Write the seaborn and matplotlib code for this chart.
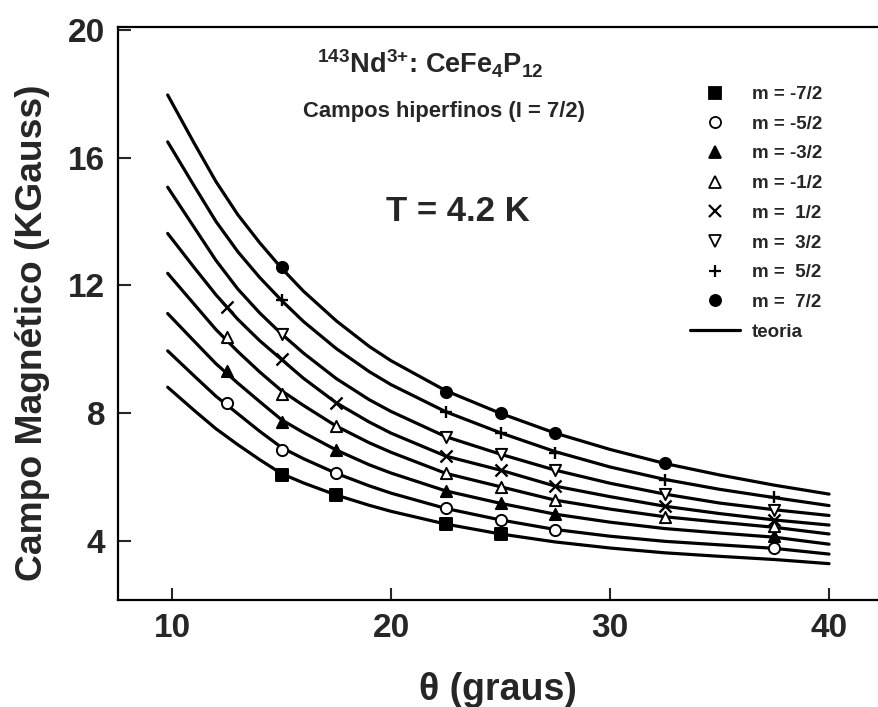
import matplotlib
matplotlib.use('Agg')
import matplotlib.pyplot as plt
import seaborn as sns
from matplotlib.lines import Line2D

sns.set_theme(style='ticks')
plt.rcParams['font.family'] = ['Liberation Sans', 'DejaVu Sans']
plt.rcParams['font.weight'] = 'bold'
plt.rcParams['mathtext.fontset'] = 'custom'
plt.rcParams['mathtext.rm'] = 'Liberation Sans:bold'
plt.rcParams['mathtext.it'] = 'Liberation Sans:bold'
plt.rcParams['mathtext.bf'] = 'Liberation Sans:bold'

# ---- theory curves ----
theta_teoria = [9.8, 11, 12, 13, 14, 15, 16, 17.5, 19, 20, 22.5, 25, 27.5, 30, 32.5, 35, 37.5, 40]
teo_m72 = [8.81, 8.09, 7.51, 7.01, 6.54, 6.10, 5.81, 5.43, 5.11, 4.92, 4.52, 4.21, 3.96, 3.77, 3.62, 3.51, 3.41, 3.28]
teo_m52 = [9.95, 9.17, 8.53, 7.98, 7.43, 6.92, 6.57, 6.11, 5.72, 5.49, 5.01, 4.65, 4.35, 4.14, 3.98, 3.87, 3.76, 3.58]
teo_m32 = [11.12, 10.26, 9.55, 8.94, 8.36, 7.79, 7.39, 6.84, 6.38, 6.12, 5.56, 5.17, 4.83, 4.58, 4.38, 4.24, 4.11, 3.89]
teo_m12 = [12.38, 11.42, 10.62, 9.93, 9.29, 8.70, 8.24, 7.59, 7.07, 6.77, 6.11, 5.69, 5.27, 4.99, 4.75, 4.58, 4.42, 4.21]
teo_p12 = [13.63, 12.57, 11.71, 10.94, 10.27, 9.68, 9.09, 8.32, 7.72, 7.37, 6.65, 6.21, 5.71, 5.38, 5.08, 4.85, 4.65, 4.49]
teo_p32 = [15.08, 13.83, 12.79, 11.89, 11.14, 10.48, 9.88, 9.08, 8.42, 8.05, 7.26, 6.71, 6.21, 5.80, 5.46, 5.18, 4.97, 4.79]
teo_p52 = [16.50, 15.13, 14.01, 13.06, 12.25, 11.53, 10.87, 10.02, 9.30, 8.89, 8.04, 7.38, 6.79, 6.31, 5.92, 5.61, 5.35, 5.10]
teo_p72 = [17.97, 16.47, 15.26, 14.22, 13.34, 12.54, 11.82, 10.89, 10.09, 9.64, 8.70, 7.99, 7.37, 6.86, 6.42, 6.06, 5.74, 5.46]

# ---- measured points ----
th_m72 = [15, 17.5, 22.5, 25]
B_m72 = [6.06, 5.43, 4.52, 4.21]
th_m52 = [12.5, 15, 17.5, 22.5, 25, 27.5, 37.5]
B_m52 = [8.30, 6.84, 6.11, 5.01, 4.65, 4.35, 3.78]
th_m32 = [12.5, 15, 17.5, 22.5, 25, 27.5, 37.5]
B_m32 = [9.33, 7.73, 6.84, 5.56, 5.17, 4.83, 4.14]
th_m12 = [12.5, 15, 17.5, 22.5, 25, 27.5, 32.5, 37.5]
B_m12 = [10.37, 8.60, 7.59, 6.11, 5.69, 5.27, 4.75, 4.45]
th_p12 = [12.5, 15, 17.5, 22.5, 25, 27.5, 32.5, 37.5]
B_p12 = [11.32, 9.68, 8.32, 6.65, 6.21, 5.71, 5.08, 4.65]
th_p32 = [15, 22.5, 25, 27.5, 32.5, 37.5]
B_p32 = [10.48, 7.26, 6.71, 6.21, 5.46, 4.96]
th_p52 = [15, 22.5, 25, 27.5, 32.5, 37.5]
B_p52 = [11.54, 8.04, 7.38, 6.76, 5.90, 5.38]
th_p72 = [15, 22.5, 25, 27.5, 32.5]
B_p72 = [12.59, 8.67, 8.01, 7.38, 6.43]

labels = ['m = -7/2', 'm = -5/2', 'm = -3/2', 'm = -1/2',
          'm =  1/2', 'm =  3/2', 'm =  5/2', 'm =  7/2']
markers = ['s', 'o', '^', '^', 'x', 'v', '+', 'o']
filled = [True, False, True, False, True, False, True, True]

teorias = [teo_m72, teo_m52, teo_m32, teo_m12, teo_p12, teo_p32, teo_p52, teo_p72]
thetas = [th_m72, th_m52, th_m32, th_m12, th_p12, th_p32, th_p52, th_p72]
Bs = [B_m72, B_m52, B_m32, B_m12, B_p12, B_p32, B_p52, B_p72]

fig = plt.figure(figsize=(8.79, 7.07), dpi=100)
ax = fig.add_axes([0.1342, 0.1513, 0.8658, 0.8105])

for teo in teorias:
    sns.lineplot(x=theta_teoria, y=teo, color='black', linewidth=2.3, ax=ax,
                 legend=False, sort=False)

handles = []
for th, B, mk, fl in zip(thetas, Bs, markers, filled):
    if mk in ('x', '+'):
        sns.scatterplot(x=th, y=B, marker=mk, color='black', s=75, linewidth=1.7,
                        ax=ax, zorder=5, legend=False)
        h = Line2D([], [], ls='none', marker=mk, color='black', ms=8, mew=1.6)
    else:
        fc = 'black' if fl else 'white'
        sns.scatterplot(x=th, y=B, marker=mk, facecolor=fc, edgecolor='black', s=65,
                        linewidth=1.4, ax=ax, zorder=5, legend=False)
        h = Line2D([], [], ls='none', marker=mk, mfc=fc, mec='black', ms=8, mew=1.3)
    handles.append(h)
handles.append(Line2D([], [], color='black', lw=2.3))

leg = ax.legend(handles=handles, labels=labels + ['teoria'], loc='upper left',
                bbox_to_anchor=(690 / 879, 1 - 86 / 707), bbox_transform=fig.transFigure,
                frameon=False, fontsize=13.5, handlelength=2.67, handletextpad=0.64,
                labelspacing=0.67, borderpad=0, borderaxespad=0)
for t in leg.get_texts():
    t.set_fontweight('bold')

ax.set_xlim(7.53, 42.28)
ax.set_ylim(2.14, 20.1)
ax.set_xticks([10, 20, 30, 40])
ax.set_yticks([4, 8, 12, 16, 20])
ax.tick_params(direction='in', length=9, width=1.5, labelsize=24, pad=9)
for lab in ax.get_xticklabels() + ax.get_yticklabels():
    lab.set_fontweight('bold')
for s in ['left', 'bottom', 'top']:
    ax.spines[s].set_linewidth(1.6)
    ax.spines[s].set_color('black')
ax.spines['right'].set_visible(False)

ax.set_xlabel('θ (graus)', fontsize=27, fontweight='bold')
ax.set_ylabel('Campo Magnético (KGauss)', fontsize=26.8, fontweight='bold')
ax.xaxis.set_label_coords((498 - 118) / 761, -(690 - 600) / 573)
ax.yaxis.set_label_coords((33 - 118) / 761, (600 - 333) / 573)
ax.xaxis.label.set_va('center')
ax.yaxis.label.set_va('center')

ax.text(430 / 879, 1 - 64 / 707, r'$^{143}$Nd$^{3{+}}$: CeFe$_4$P$_{12}$', transform=fig.transFigure,
        ha='center', va='center', fontsize=19.5, fontweight='bold')
ax.text(444 / 879, 1 - 112 / 707, 'Campos hiperfinos (I = 7/2)', transform=fig.transFigure,
        ha='center', va='center', fontsize=15.8, fontweight='bold')
ax.text(458 / 879, 1 - 212 / 707, 'T = 4.2 K', transform=fig.transFigure,
        ha='center', va='center', fontsize=25, fontweight='bold')

fig.savefig('out.png', dpi=100)
